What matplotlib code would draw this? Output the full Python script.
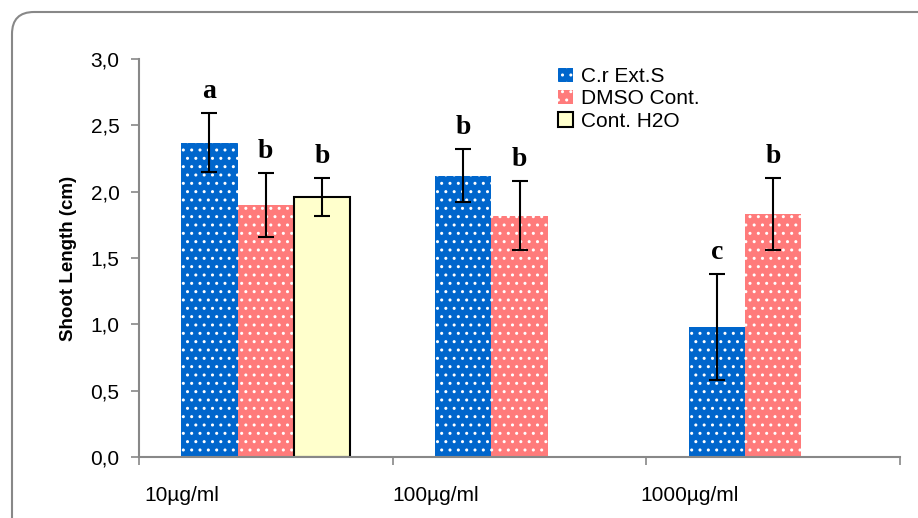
import matplotlib
matplotlib.use("Agg")
import matplotlib.pyplot as plt
from matplotlib.patches import FancyBboxPatch
from matplotlib.transforms import IdentityTransform
import numpy as np

categories = ["10µg/ml", "100µg/ml", "1000µg/ml"]
series_names = ["C.r Ext.S", "DMSO Cont.", "Cont. H2O"]
cr_vals = [2.37, 2.12, 0.98]
cr_err = [0.22, 0.20, 0.40]
cr_letters = ["a", "b", "c"]
dmso_vals = [1.90, 1.82, 1.83]
dmso_err = [0.24, 0.26, 0.27]
dmso_letters = ["b", "b", "b"]
h2o_vals = [1.96]
h2o_err = [0.14]
h2o_letters = ["b"]
yticks = [0.0, 0.5, 1.0, 1.5, 2.0, 2.5, 3.0]
ytick_labels = ["0,0", "0,5", "1,0", "1,5", "2,0", "2,5", "3,0"]

plt.rcParams['font.family'] = ['Liberation Sans', 'DejaVu Sans']
plt.rcParams['hatch.linewidth'] = 1.0

fig = plt.figure(figsize=(9.18, 5.18), dpi=100)
ax = fig.add_axes([139/918, 1-457/518, 761/918, 398/518])

w = 0.2225
x = np.arange(len(categories))
blue = "#0066CC"
pink = "#FF7B7B"
yellow = "#FFFFCC"

series = [
    (cr_vals, cr_err, cr_letters, blue, -w, series_names[0], True),
    (dmso_vals, dmso_err, dmso_letters, pink, 0, series_names[1], True),
    (h2o_vals, h2o_err, h2o_letters, yellow, w, series_names[2], False),
]

for vals, errs, letters, col, off, name, hatched in series:
    xs = x[:len(vals)] + off
    if hatched:
        ax.bar(xs, vals, width=w, color=col, edgecolor="white", linewidth=0,
               hatch="..", label=name, zorder=2)
    else:
        ax.bar(xs, vals, width=w, color=col, edgecolor="black", linewidth=1.5,
               label=name, zorder=2)
    ax.errorbar(xs, vals, yerr=errs, fmt="none", ecolor="black",
                elinewidth=1.5, capsize=6, capthick=1.5, zorder=3)
    for xi, v, e, l in zip(xs, vals, errs, letters):
        ax.text(xi, v + e + 0.07, l, ha="center", va="bottom",
                family="Liberation Serif", fontweight="bold", fontsize=20)

ax.set_xlim(-0.5, 2.5)
ax.set_ylim(0, 3.0)
ax.set_yticks(yticks)
ax.set_yticklabels(ytick_labels, fontsize=15)
ax.set_xticks(x - 0.33)
ax.set_xticklabels(categories, fontsize=15)
ax.tick_params(axis="x", which="major", length=0, pad=21)
ax.set_xticks([-0.5, 0.5, 1.5, 2.5], minor=True)
ax.tick_params(axis="x", which="minor", length=6, width=1.2, color="#888888", direction="out")
ax.tick_params(axis="y", length=6, width=1.2, color="#888888", direction="out", pad=8)

for s in ["top", "right"]:
    ax.spines[s].set_visible(False)
for s in ["left", "bottom"]:
    ax.spines[s].set_color("#888888")
    ax.spines[s].set_linewidth(1.5)

ax.set_ylabel("Shoot Length (cm)", fontsize=13.5, fontweight="bold", labelpad=10)

leg = ax.legend(loc="upper left", bbox_to_anchor=(0.54, 1.0), frameon=False,
                fontsize=15, handlelength=0.7, handleheight=0.7,
                handletextpad=0.4, labelspacing=0.15, borderaxespad=0)

border = FancyBboxPatch((12, -60), 1100, 506 + 60, boxstyle="round,pad=0,rounding_size=22",
                        transform=IdentityTransform(), facecolor="none",
                        edgecolor="#888888", linewidth=1.5)
fig.patches.append(border)

fig.savefig("out.png", dpi=100)
